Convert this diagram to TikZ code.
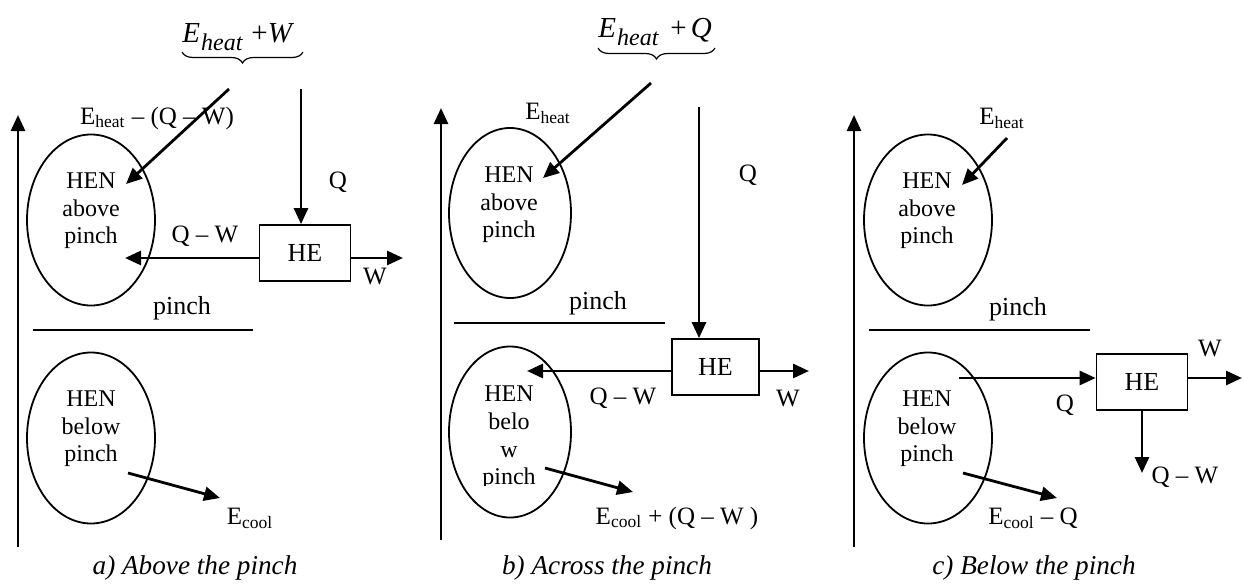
\documentclass[tikz,border=0pt]{standalone}
\usepackage{fontspec}
\setmainfont{Liberation Serif}
\usetikzlibrary{shapes.geometric,arrows.meta,decorations.pathreplacing}
\begin{document}
\begin{tikzpicture}[x=0.5pt,y=-0.5pt,
  every node/.style={font=\fontsize{12.5}{13.8}\selectfont, inner sep=0pt},
  intext/.style={align=center,font=\fontsize{12}{13.8}\selectfont},
  bigtext/.style={font=\fontsize{13}{15}\selectfont},
  flow/.style={line width=1.4pt,-{Triangle[length=8pt,width=7pt]}},
  hen/.style={draw,ellipse,line width=0.9pt,minimum width=64pt,minimum height=85.5pt},
  hebox/.style={draw,line width=0.9pt,minimum width=45.5pt,minimum height=28pt,font=\fontsize{13}{15}\selectfont},
  pinchline/.style={line width=0.9pt},
  captext/.style={font=\fontsize{13.6}{16}\selectfont\itshape},
  toptext/.style={anchor=base west,font=\fontsize{14.5}{16}\selectfont\itshape},
  bracepath/.style={line width=0.6pt,decorate,decoration={brace,amplitude=5.5pt}}]
\useasboundingbox (0,0) rectangle (1243,584);
\newcommand{\sbheat}{\hspace{0.5pt}\raisebox{-4.2pt}{\fontsize{12}{13}\selectfont heat}}

% ---------------- panel a ----------------
\coordinate (aax0) at (18,547); \coordinate (aax1) at (18,115);
\draw[flow] (aax0) -- (aax1);
\node[hen] (aA) at (91,220) {};
\node[intext] (aAt) at (91,211) {HEN\\above\\pinch};
\node[hen] (aB) at (91,438) {};
\node[intext] (aBt) at (91,429) {HEN\\below\\pinch};
\coordinate (apl1) at (33,330); \coordinate (apl2) at (253,330);
\draw[pinchline] (apl1) -- (apl2);
\node[bigtext] (apl) at (182,308) {pinch};
\node[toptext] (atop) at (182,42) {E\sbheat\hspace{4.5pt}{\upshape +}W};
\coordinate (abr1) at (303,52); \coordinate (abr2) at (182,52);
\draw[bracepath] (abr1) -- (abr2);
\coordinate (ad0) at (229,89); \coordinate (ad1) at (126,184);
\draw[flow] (ad0) -- (ad1);
\node (adl) at (157,118) {E\textsubscript{heat} – (Q – W)};
\node[hebox] (aHE) at (305,253) {HE};
\coordinate (aq0) at (301,89);
\draw[flow] (aq0) -- (aq0 |- aHE.north);
\node (aql) at (338,182) {Q};
\coordinate (aqw1) at (125,258);
\draw[flow] (aHE.west |- aqw1) -- (aqw1);
\node (aqwl) at (205,236) {Q – W};
\coordinate (aw1) at (403,258);
\draw[flow] (aHE.east |- aw1) -- (aw1);
\node (awl) at (375,277) {W};
\coordinate (ae0) at (128,473); \coordinate (ae1) at (220,498);
\draw[flow] (ae0) -- (ae1);
\node (ael) at (250,518) {E\textsubscript{cool}};
\node[captext] (acap) at (195,568) {a) Above the pinch};

% ---------------- panel b ----------------
\coordinate (bax0) at (441,540); \coordinate (bax1) at (441,108);
\draw[flow] (bax0) -- (bax1);
\node[hen,minimum width=61pt,minimum height=85pt] (bA) at (510,213) {};
\node[intext] (bAt) at (509,205) {HEN\\above\\pinch};
\node[hen,minimum width=61pt,minimum height=85.5pt] (bB) at (510,432) {};
\begin{scope}
\clip (445,340) rectangle (575,485);
\node[intext] (bBt) at (509,438) {HEN\\belo\\w\\pinch};
\end{scope}
\coordinate (bpl1) at (454,323); \coordinate (bpl2) at (665,323);
\draw[pinchline] (bpl1) -- (bpl2);
\node[bigtext] (bpl) at (598,303) {pinch};
\node[toptext] (btop) at (598,37) {E\sbheat\hspace{6pt}{\upshape +}\hspace{2pt}Q};
\coordinate (bbr1) at (715,48); \coordinate (bbr2) at (598,48);
\draw[bracepath] (bbr1) -- (bbr2);
\node (bel) at (548,113) {E\textsubscript{heat}};
\coordinate (bd0) at (651,83); \coordinate (bd1) at (543,178);
\draw[flow] (bd0) -- (bd1);
\node[hebox,minimum width=43.5pt] (bHE) at (715.5,367) {HE};
\coordinate (bq0) at (699,107);
\draw[flow] (bq0) -- (bq0 |- bHE.north);
\node (bql) at (748,175) {Q};
\coordinate (bqw1) at (527,371);
\draw[flow] (bHE.west |- bqw1) -- (bqw1);
\node (bqwl) at (623,398) {Q – W};
\coordinate (bw1) at (809,371);
\draw[flow] (bHE.east |- bw1) -- (bw1);
\node (bwl) at (788,398) {W};
\coordinate (be0) at (545,468); \coordinate (be1) at (633,492);
\draw[flow] (be0) -- (be1);
\node (bell) at (677,518) {E\textsubscript{cool} + (Q – W )};
\node[captext] (bcap) at (607,568) {b) Across the pinch};

% ---------------- panel c ----------------
\coordinate (cax0) at (854,547); \coordinate (cax1) at (854,115);
\draw[flow] (cax0) -- (cax1);
\node[hen] (cA) at (928,220) {};
\node[intext] (cAt) at (927,211) {HEN\\above\\pinch};
\node[hen] (cB) at (928,438) {};
\node[intext] (cBt) at (927,429) {HEN\\below\\pinch};
\node (cel) at (1002,118) {E\textsubscript{heat}};
\coordinate (cd0) at (1007,138); \coordinate (cd1) at (962,185);
\draw[flow] (cd0) -- (cd1);
\coordinate (cpl1) at (869,330); \coordinate (cpl2) at (1090,330);
\draw[pinchline] (cpl1) -- (cpl2);
\node[bigtext] (cpl) at (1018,309) {pinch};
\node[hebox] (cHE) at (1142,382) {HE};
\coordinate (cq0) at (959,378);
\draw[flow] (cq0) -- (cq0 -| cHE.west);
\node (cql) at (1065,405) {Q};
\coordinate (cw1) at (1242,378);
\draw[flow] (cHE.east |- cw1) -- (cw1);
\node (cwl) at (1210,348) {W};
\coordinate (cqw1) at (1142,473);
\draw[flow] (cHE.south) -- (cqw1);
\node (cqwl) at (1185,477) {Q – W};
\coordinate (ce0) at (963,473); \coordinate (ce1) at (1057,498);
\draw[flow] (ce0) -- (ce1);
\node (cell) at (1033,518) {E\textsubscript{cool} – Q};
\node[captext] (ccap) at (1034,568) {c) Below the pinch};
\end{tikzpicture}
\end{document}
